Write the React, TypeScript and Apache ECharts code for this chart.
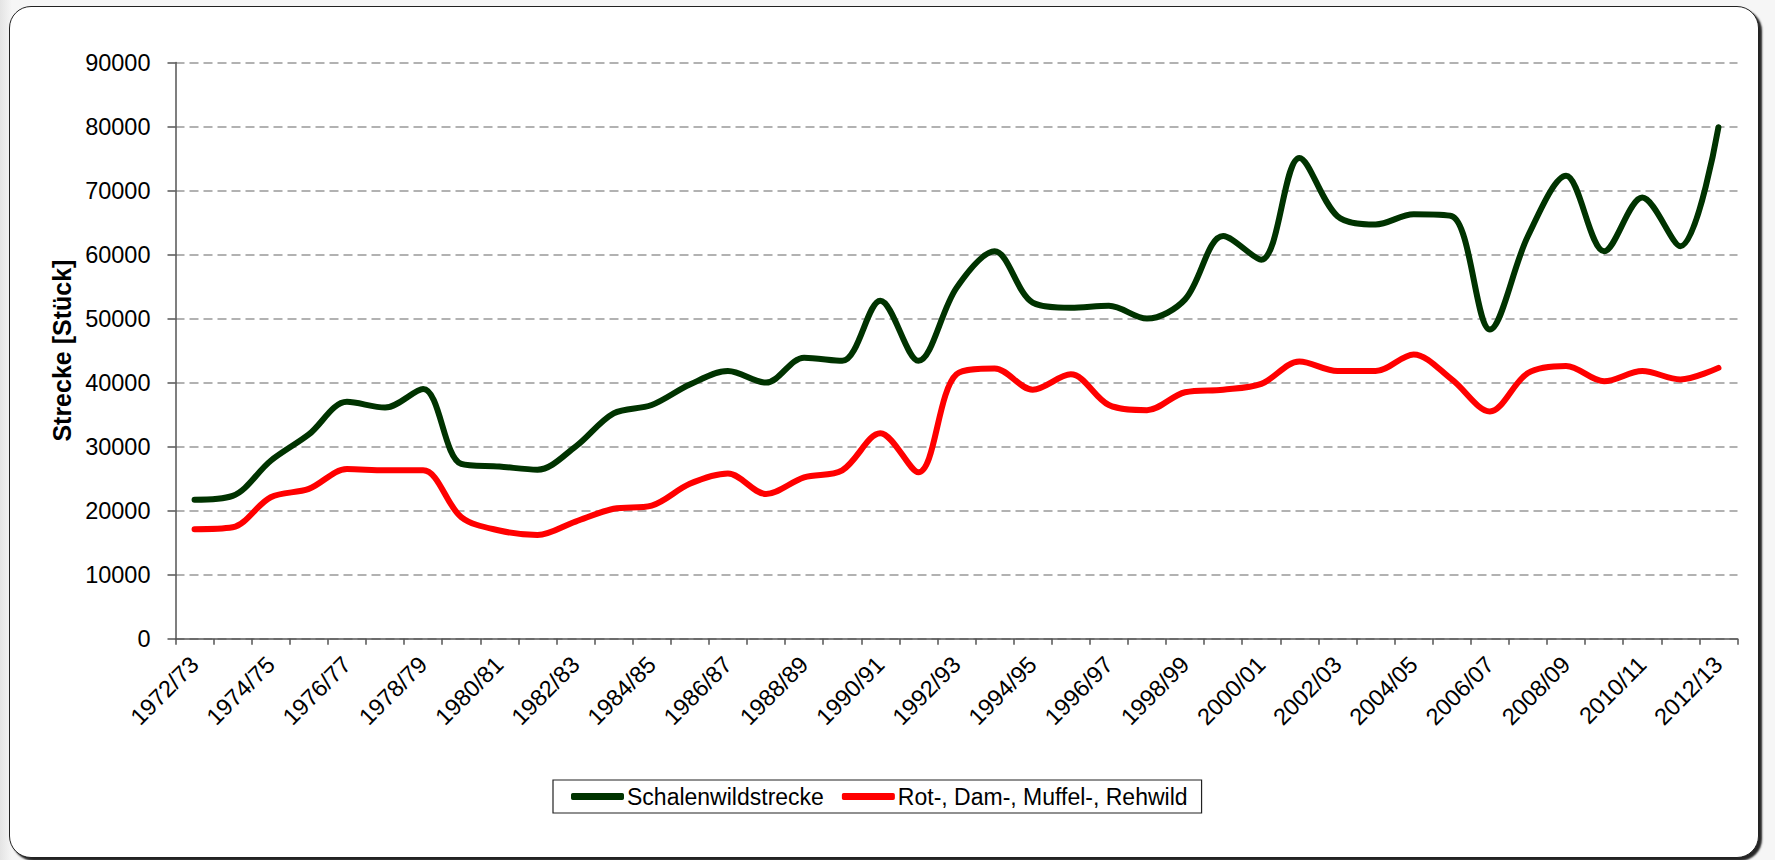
import React, { useEffect, useRef } from "react";
import * as echarts from "echarts";

const categories = [
  "1972/73", "1973/74", "1974/75", "1975/76", "1976/77", "1977/78", "1978/79", "1979/80",
  "1980/81", "1981/82", "1982/83", "1983/84", "1984/85", "1985/86", "1986/87", "1987/88",
  "1988/89", "1989/90", "1990/91", "1991/92", "1992/93", "1993/94", "1994/95", "1995/96",
  "1996/97", "1997/98", "1998/99", "1999/00", "2000/01", "2001/02", "2002/03", "2003/04",
  "2004/05", "2005/06", "2006/07", "2007/08", "2008/09", "2009/10", "2010/11", "2011/12",
  "2012/13",
];

const schalenwild = [
  21700, 22300, 27800, 31900, 37000, 36100, 39000, 27300, 26900, 26400,
  30000, 35200, 36500, 39700, 41800, 40000, 43900, 43400, 52800, 43400,
  54800, 60500, 52500, 51700, 52000, 50000, 53000, 62900, 59200, 75100,
  66000, 64700, 66300, 66000, 48300, 62900, 72300, 60500, 68900, 61300,
  79900,
];

const rotDamMuffelReh = [
  17100, 17400, 22100, 23400, 26500, 26300, 26300, 19000, 16900, 16200,
  18300, 20300, 20800, 24200, 25800, 22600, 25200, 26300, 32100, 26000,
  41300, 42200, 38900, 41300, 36500, 35700, 38500, 38900, 39800, 43300,
  41800, 41800, 44400, 40500, 35500, 41500, 42600, 40200, 41800, 40500,
  42300,
];

const yTicks = { min: 0, max: 90000, interval: 10000 };
const seriesNames = ["Schalenwildstrecke", "Rot-, Dam-, Muffel-, Rehwild"];
const seriesColors = ["#003300", "#ff0000"];

export default function App() {
  const ref = useRef<HTMLDivElement>(null);

  useEffect(() => {
    if (!ref.current) return;
    const chart = echarts.init(ref.current, undefined, { renderer: "svg" });
    const font = "'Liberation Sans', Arial, sans-serif";
    chart.setOption({
      animation: false,
      backgroundColor: "transparent",
      grid: { left: 175.5, right: 37.5, top: 62.5, bottom: 221.3, containLabel: false },
      legend: {
        left: 553,
        top: 780,
        width: 900,
        orient: "horizontal",
        borderColor: "#222",
        borderWidth: 1.2,
        borderRadius: 0,
        padding: [5, 14, 5, 18],
        itemGap: 18,
        itemWidth: 53,
        itemHeight: 7,
        icon: "roundRect",
        textStyle: { fontFamily: font, fontSize: 23, color: "#000", padding: [0, 0, 0, -2] },
        data: seriesNames,
      },
      xAxis: {
        type: "category",
        data: categories,
        boundaryGap: true,
        axisLine: { lineStyle: { color: "#555", width: 1.5 } },
        axisTick: { show: true, interval: 0, length: 6, lineStyle: { color: "#555", width: 1.5 } },
        axisLabel: {
          interval: 1,
          rotate: 45,
          fontFamily: font,
          fontSize: 23.5,
          color: "#000",
          margin: 22,
        },
        splitLine: { show: false },
      },
      yAxis: {
        type: "value",
        min: yTicks.min,
        max: yTicks.max,
        interval: yTicks.interval,
        name: "Strecke [Stück]",
        nameLocation: "middle",
        nameGap: 99,
        nameTextStyle: { fontFamily: font, fontSize: 25, fontWeight: "bold", color: "#000" },
        axisLine: { show: true, lineStyle: { color: "#555", width: 1.5 } },
        axisTick: { show: true, length: 8, lineStyle: { color: "#555", width: 1.5 } },
        axisLabel: {
          fontFamily: font,
          fontSize: 23.5,
          color: "#000",
          margin: 25,
          formatter: (v: number) => String(v),
        },
        splitLine: { show: true, lineStyle: { color: "#999", width: 1.5, type: [9, 5] } },
      },
      series: [
        {
          name: seriesNames[0],
          type: "line",
          data: schalenwild,
          smooth: 0.33,
          symbol: "none",
          color: seriesColors[0],
          lineStyle: { width: 6, color: seriesColors[0], cap: "round", join: "round" },
          z: 3,
        },
        {
          name: seriesNames[1],
          type: "line",
          data: rotDamMuffelReh,
          smooth: 0.33,
          symbol: "none",
          color: seriesColors[1],
          lineStyle: { width: 6, color: seriesColors[1], cap: "round", join: "round" },
          z: 2,
        },
      ],
    });
    return () => chart.dispose();
  }, []);

  return (
    <div
      style={{
        position: "absolute",
        left: 0,
        top: 0,
        width: 1775,
        height: 860,
        background: "linear-gradient(90deg, #e4e4e4 0px, #f6f6f6 12px, #f6f6f6 100%)",
        overflow: "hidden",
      }}
    >
      <div
        style={{
          position: "absolute",
          left: 9,
          top: 6,
          width: 1748,
          height: 850,
          background: "#fff",
          border: "1.5px solid #222",
          borderRadius: 22,
          boxShadow: "3px 3px 2px rgba(0,0,0,0.85)",
        }}
      />
      <div ref={ref} style={{ position: "absolute", left: 0, top: 0, width: 1775, height: 860 }} />
    </div>
  );
}
